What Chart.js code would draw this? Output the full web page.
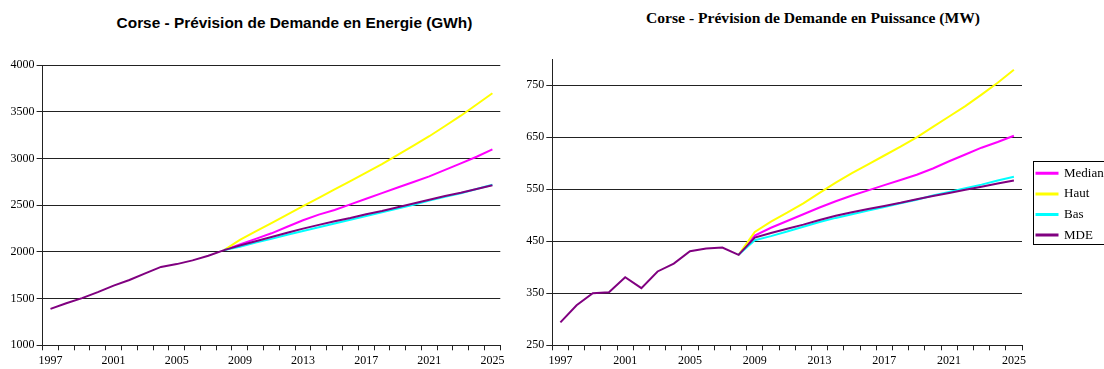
<!DOCTYPE html>
<html><head><meta charset="utf-8">
<script src="https://cdn.jsdelivr.net/npm/chart.js@4/dist/chart.umd.min.js"></script>
<style>
html,body{margin:0;padding:0;background:#fff;overflow:hidden;width:1104px;height:369px;}
#wrapL{position:absolute;left:0;top:0;width:520px;height:369px;}
#wrapR{position:absolute;left:520px;top:0;width:584px;height:369px;}
.title{position:absolute;white-space:nowrap;transform:translateX(-50%);color:#000;font-weight:bold;}
#tL{left:294.5px;top:13px;font-family:"Liberation Sans",Arial,sans-serif;font-size:15.4px;line-height:20px;}
#tR{left:813px;top:8px;font-family:"Liberation Serif","Times New Roman",serif;font-size:15.6px;line-height:20px;}
</style></head>
<body>
<div class="title" id="tL">Corse - Prévision de Demande en Energie (GWh)</div>
<div class="title" id="tR">Corse - Prévision de Demande en Puissance (MW)</div>
<div id="wrapL"><canvas id="cL" width="520" height="369"></canvas></div>
<div id="wrapR"><canvas id="cR" width="584" height="369"></canvas></div>
<script>
const years = ['1997','1998','1999','2000','2001','2002','2003','2004','2005','2006','2007','2008','2009','2010','2011','2012','2013','2014','2015','2016','2017','2018','2019','2020','2021','2022','2023','2024','2025'];
const seriesNames = ['Median','Haut','Bas','MDE'];
const seriesColors = ['#FF00FF','#FFFF00','#00FFFF','#800080'];

// Energy (GWh)
const energyMedian = [null,null,null,null,null,null,null,null,null,null,null,2020,2080,2140,2200,2270,2340,2400,2450,2510,2570,2630,2690,2750,2810,2880,2950,3020,3100];
const energyHaut   = [null,null,null,null,null,null,null,null,null,null,null,2020,2130,2220,2310,2400,2490,2580,2670,2760,2850,2940,3040,3140,3240,3350,3460,3580,3700];
const energyBas    = [null,null,null,null,null,null,null,null,null,null,null,2020,2055,2100,2140,2185,2225,2265,2305,2345,2385,2425,2465,2505,2550,2590,2630,2675,2720];
const energyMDE    = [1390,1450,1505,1570,1640,1700,1770,1840,1870,1910,1960,2020,2070,2115,2160,2205,2250,2290,2330,2365,2405,2440,2480,2520,2560,2600,2635,2675,2715];
const energyTicks  = [1000,1500,2000,2500,3000,3500,4000];

// Power (MW)
const powerMedian = [null,null,null,null,null,null,null,null,null,null,null,424,461,476,489,502,515,527,538,548,558,568,578,590,604,617,630,641,653];
const powerHaut   = [null,null,null,null,null,null,null,null,null,null,null,424,468,488,505,523,543,563,581,598,615,632,650,670,690,710,732,755,780];
const powerBas    = [null,null,null,null,null,null,null,null,null,null,null,424,452,460,469,478,487,495,502,509,516,523,530,538,545,552,559,567,574];
const powerMDE    = [294,327,350,352,381,360,392,407,431,436,438,424,457,466,474,482,491,499,506,512,518,524,531,537,543,549,555,561,567];
const powerTicks  = [250,350,450,550,650,750];

const SERIF = "'Liberation Serif', 'Times New Roman', serif";
const GRID = '#222';
Chart.defaults.font.family = SERIF;
Chart.defaults.color = '#000';

function datasets(arrs){
  const orders = [3,2,1,0];
  return arrs.map((d,i)=>({
    label: seriesNames[i], data: d,
    borderColor: seriesColors[i], backgroundColor: seriesColors[i],
    borderWidth: 2, pointRadius: 0, pointHoverRadius: 0, tension: 0, fill: false,
    order: orders[i], spanGaps: false
  }));
}

function makeOptions(o){
  return {
    responsive: false, animation: false,
    layout: { padding: o.padding },
    plugins: {
      legend: o.legend,
      tooltip: { enabled: false },
      title: { display: false }
    },
    scales: {
      x: {
        type: 'category', offset: true,
        grid: { offset: true, drawOnChartArea: false, drawTicks: true, tickLength: 5, color: GRID },
        border: { display: true, color: GRID, width: 1 },
        ticks: {
          autoSkip: false, maxRotation: 0, minRotation: 0, padding: 3, color: '#000',
          font: { family: SERIF, size: 12 },
          callback: (v, i) => (i % 4 === 0 ? years[i] : '')
        },
        afterFit: (s) => { s.height = o.xHeight; }
      },
      y: {
        min: o.min, max: o.max,
        afterBuildTicks: (s) => { s.ticks = o.ticks.map(v => ({ value: v })); },
        grid: { drawOnChartArea: true, drawTicks: true, tickLength: 6, color: GRID },
        border: { display: true, color: GRID, width: 1 },
        ticks: { padding: 2, color: '#000', font: { family: SERIF, size: 12 }, callback: (v) => String(v) },
        afterFit: (s) => { s.width = o.yWidth; }
      }
    }
  };
}

// Left chart
new Chart(document.getElementById('cL'), {
  type: 'line',
  data: { labels: years, datasets: datasets([energyMedian, energyHaut, energyBas, energyMDE]) },
  options: makeOptions({
    padding: { left: 0, right: 19.7, top: 65.3, bottom: 0 },
    legend: { display: false },
    min: 1000, max: 4000, ticks: energyTicks, xHeight: 23.7, yWidth: 42.6
  })
});

// Right chart with legend
const LEG_X = 516.5, LEG_Y = 166.8;
const legendPlace = {
  id: 'legendPlace',
  afterLayout(chart) {
    const lg = chart.legend; if (!lg) return;
    const pad = lg.options.labels.padding;
    const dx = LEG_X - (lg.left + pad);
    lg.left += dx; lg.right += dx;
    const h = lg.bottom - lg.top;
    lg.top = LEG_Y - pad; lg.bottom = lg.top + h;
  },
  afterDraw(chart) {
    const ctx = chart.ctx;
    ctx.save();
    ctx.strokeStyle = '#000'; ctx.lineWidth = 1;
    ctx.strokeRect(513.5, 161.5, 120, 83);
    ctx.restore();
  }
};

new Chart(document.getElementById('cR'), {
  type: 'line',
  data: { labels: years, datasets: datasets([powerMedian, powerHaut, powerBas, powerMDE]) },
  options: makeOptions({
    padding: { left: 0, right: 0, top: 59.3, bottom: 0 },
    legend: {
      display: true, position: 'right', align: 'start', maxWidth: 82,
      labels: {
        boxWidth: 21, boxHeight: 1, padding: 7.6, color: '#000',
        font: { family: SERIF, size: 13 },
        sort: (a, b) => a.datasetIndex - b.datasetIndex
      }
    },
    min: 250, max: 800, ticks: powerTicks, xHeight: 23.7, yWidth: 32.3
  }),
  plugins: [legendPlace]
});
</script>
</body></html>
